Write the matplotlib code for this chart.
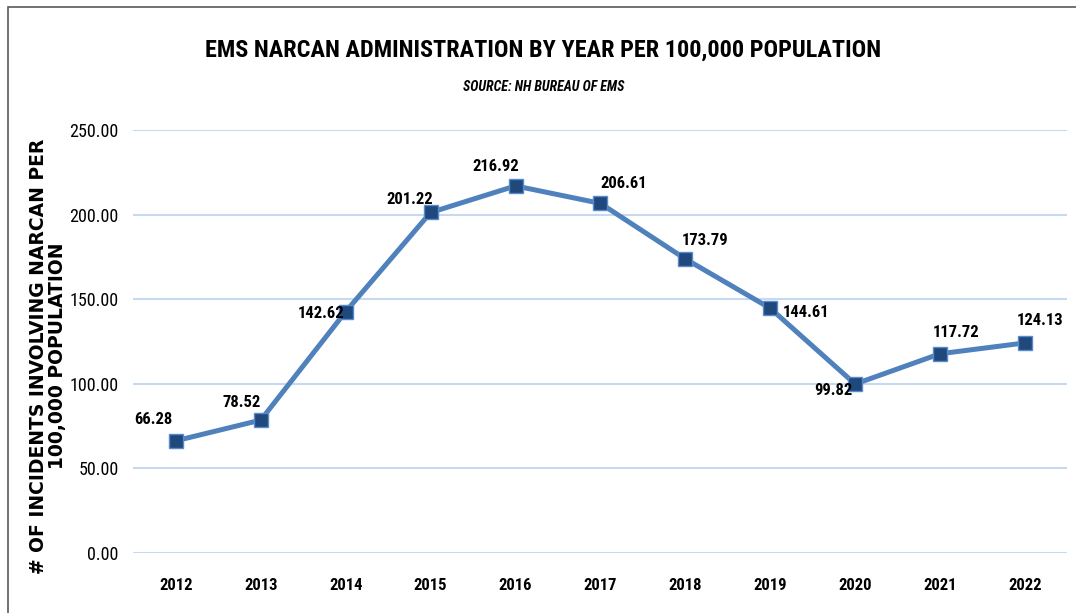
import matplotlib
matplotlib.use("Agg")
import matplotlib.pyplot as plt
from matplotlib import font_manager
from matplotlib.patches import Rectangle

years = ["2012", "2013", "2014", "2015", "2016", "2017", "2018", "2019", "2020", "2021", "2022"]
rates = [66.28, 78.52, 142.62, 201.22, 216.92, 206.61, 173.79, 144.61, 99.82, 117.72, 124.13]
yticks = [0, 50, 100, 150, 200, 250]

# label offsets (points) so the numbers sit roughly where Excel put them
offsets = [(-16, 15), (-14, 13), (-18, -1.5), (-15, 9.5), (-14.5, 14), (16.5, 14.5),
           (14.5, 13), (26, -3), (-16, -4.5), (11.5, 15), (11, 16)]

installed = {f.name for f in font_manager.fontManager.ttflist}
narrow = "DejaVu Sans"
for cand in ["Liberation Sans Narrow", "Roboto Condensed", "Open Sans Condensed", "Roboto", "Liberation Sans"]:
    if cand in installed:
        narrow = cand
        break
NARROW = [narrow, "DejaVu Sans"]

fig = plt.figure(figsize=(10.76, 6.13), dpi=100)
ax = fig.add_axes([0.124, 0.098, 0.868, 0.69])

x = list(range(len(years)))
ax.plot(x, rates, color="#4F81BD", lw=3.6, marker="s", ms=9.5,
        mfc="#1F497D", mec="#5B8ACB", mew=1.0, zorder=3)

for i, v in enumerate(rates):
    ax.annotate(f"{v:.2f}", (i, v), xytext=offsets[i], textcoords="offset points",
                ha="center", va="center", fontsize=12, fontweight="bold",
                family=NARROW, color="black", zorder=4)

ax.set_xlim(-0.5, len(years) - 0.5)
ax.set_ylim(0, 250)
ax.set_yticks(yticks)
ax.set_yticklabels([f"{t:.2f}" for t in yticks], family=NARROW, fontsize=13)
ax.set_xticks(x)
ax.set_xticklabels(years, family=NARROW, fontsize=12, fontweight="bold")
ax.tick_params(length=0)
ax.tick_params(axis="y", pad=10.5)
ax.tick_params(axis="x", pad=18)
ax.grid(axis="y", color="#C6D9F1", lw=1.5)
ax.set_axisbelow(True)
for s in ax.spines.values():
    s.set_visible(False)

ax.set_ylabel("# OF INCIDENTS INVOLVING NARCAN PER\n100,000 POPULATION",
              fontsize=13.5, fontweight="bold", family="DejaVu Sans",
              linespacing=1.0)
ax.yaxis.set_label_coords(-0.071, 0.465)

fig.text(0.505, 0.918, "EMS NARCAN ADMINISTRATION BY YEAR PER 100,000 POPULATION",
         ha="center", va="center", fontsize=17.5, fontweight="bold", family=NARROW)
fig.text(0.505, 0.858, "SOURCE: NH BUREAU OF EMS", ha="center", va="center",
         fontsize=10, fontweight="bold", style="italic", family=NARROW)

fig.patches.append(Rectangle((8 / 1076, -0.1), 1.2, 1.1 - 7 / 613,
                             transform=fig.transFigure, fill=False,
                             edgecolor="#595959", lw=1.2))

fig.savefig("out.png", dpi=100)
